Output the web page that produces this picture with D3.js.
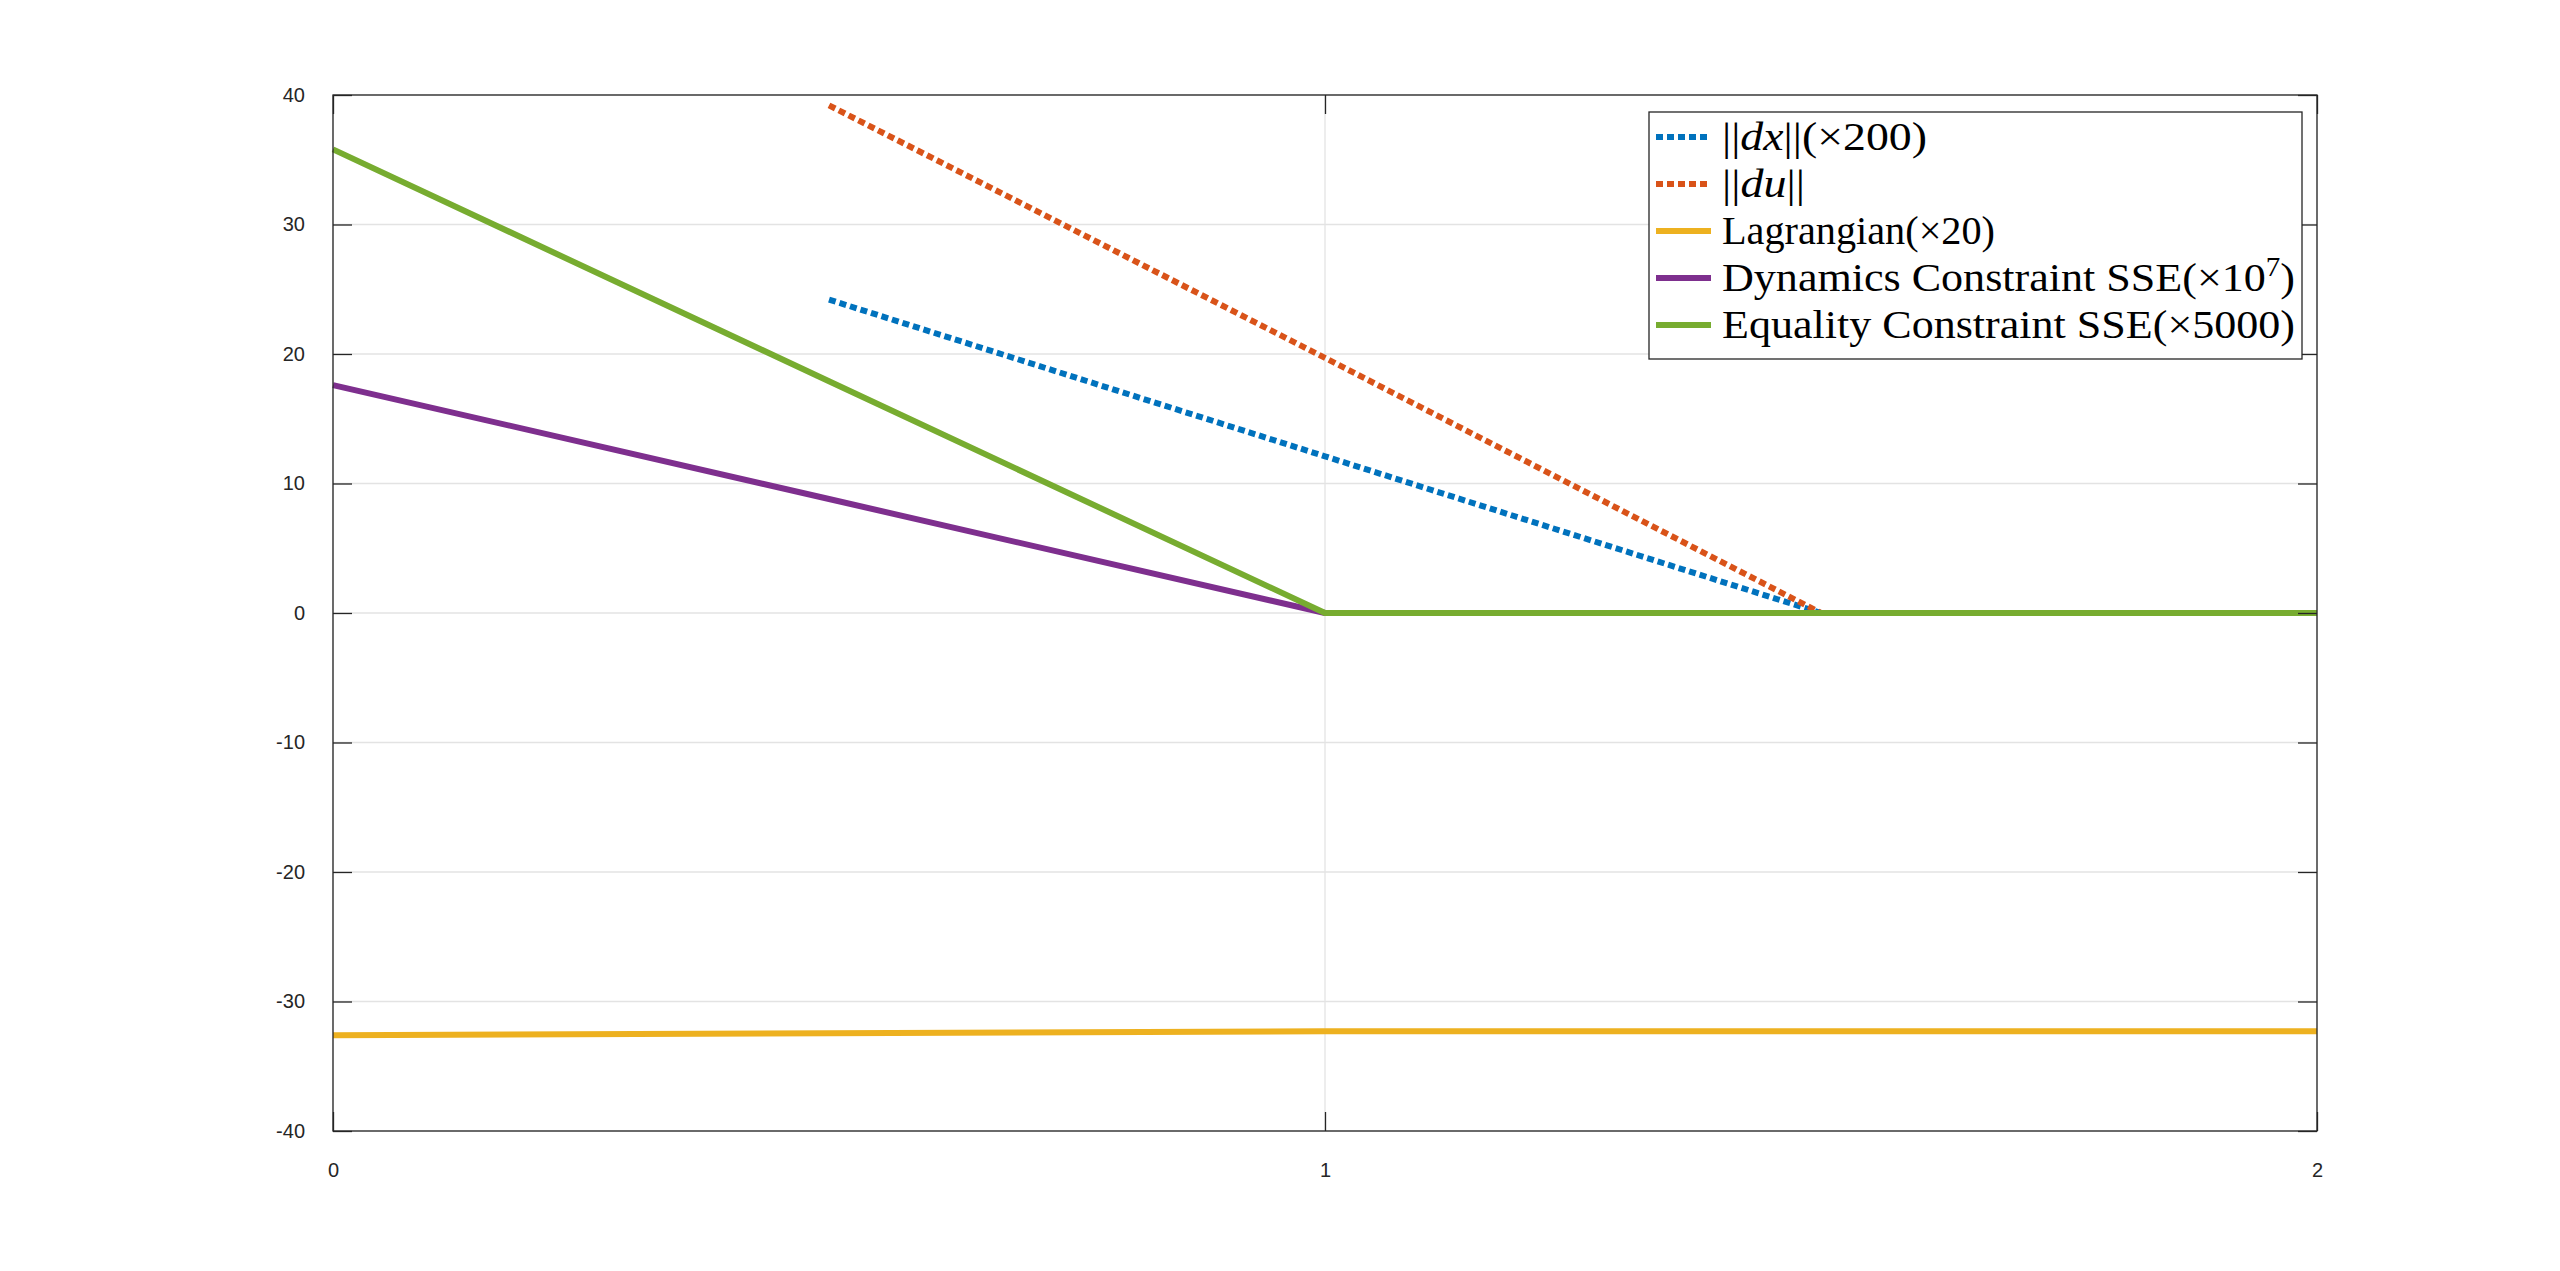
<!DOCTYPE html>
<html>
<head>
<meta charset="utf-8">
<script src="https://cdn.jsdelivr.net/npm/d3@7"></script>
<style>
  html, body { margin: 0; padding: 0; background: #fff; }
  svg { display: block; }
</style>
</head>
<body>
<div id="chart"></div>
<script>
'use strict';

// data
const xs = [0, 0.5, 1, 1.5, 2];
const dxNorm = [null, 24.2, 12.1, 0, 0];
const duNorm = [null, 39.2, 19.7, 0, 0];
const lagrangian = [-32.6, -32.45, -32.3, -32.3, -32.3];
const dynamicsSSE = [17.6, 8.8, 0, 0, 0];
const equalitySSE = [35.8, 17.9, 0, 0, 0];

const xTicks = [0, 1, 2];
const yTicks = [-40, -30, -20, -10, 0, 10, 20, 30, 40];

const series = [
    { name: 'dx', values: dxNorm, color: '#0072BD', dash: '7,4' },
    { name: 'du', values: duNorm, color: '#D95319', dash: '7,4' },
    { name: 'lag', values: lagrangian, color: '#EDB120', dash: null },
    { name: 'dyn', values: dynamicsSSE, color: '#7E2F8E', dash: null },
    { name: 'eq', values: equalitySSE, color: '#77AC30', dash: null }
];

// canvas
const W = 2560, H = 1271;
const axL = 333, axR = 2317, axT = 95, axB = 1131;
const axisColor = '#262626', gridColor = '#e3e3e3';

const svg = d3.select('#chart').append('svg')
    .attr('width', W)
    .attr('height', H);

const x = d3.scaleLinear().domain([0, 2]).range([axL, axR]);
const y = d3.scaleLinear().domain([-40, 40]).range([axB, axT]);

// grid
svg.append('g').selectAll('line')
    .data(yTicks).enter().append('line')
    .attr('x1', axL).attr('x2', axR)
    .attr('y1', d => y(d)).attr('y2', d => y(d))
    .attr('stroke', gridColor).attr('stroke-width', 1.3);
svg.append('g').selectAll('line')
    .data(xTicks).enter().append('line')
    .attr('x1', d => x(d)).attr('x2', d => x(d))
    .attr('y1', axT).attr('y2', axB)
    .attr('stroke', gridColor).attr('stroke-width', 1.3);

// lines
const line = d3.line()
    .defined(d => d[1] !== null)
    .x(d => x(d[0]))
    .y(d => y(d[1]));

series.forEach(s => {
    svg.append('path')
        .datum(xs.map((v, i) => [v, s.values[i]]))
        .attr('d', line)
        .attr('fill', 'none')
        .attr('stroke', s.color)
        .attr('stroke-width', 6)
        .attr('stroke-dasharray', s.dash)
        .attr('stroke-linejoin', 'round');
});

// axes (ticks inward, box on)
const tickLen = 19;
const fontAxis = '"Liberation Sans", Arial, sans-serif';
const plain = d => String(d);

const yAxisL = d3.axisLeft(y).tickValues(yTicks).tickSize(-tickLen).tickPadding(tickLen + 9).tickFormat(plain);
const yAxisR = d3.axisRight(y).tickValues(yTicks).tickSize(-tickLen).tickFormat('');
const xAxisB = d3.axisBottom(x).tickValues(xTicks).tickSize(-tickLen).tickPadding(tickLen + 13).tickFormat(plain);
const xAxisT = d3.axisTop(x).tickValues(xTicks).tickSize(-tickLen).tickFormat('');

function styleAxis(g) {
    g.select('.domain').remove();
    g.selectAll('.tick line').attr('stroke', axisColor).attr('stroke-width', 1.3);
    g.selectAll('.tick text')
        .attr('fill', axisColor)
        .style('font-family', fontAxis)
        .style('font-size', '20px');
}

svg.append('g').attr('transform', `translate(${axL},0)`).call(yAxisL).call(styleAxis);
svg.append('g').attr('transform', `translate(${axR},0)`).call(yAxisR).call(styleAxis);
svg.append('g').attr('transform', `translate(0,${axB})`).call(xAxisB).call(styleAxis);
svg.append('g').attr('transform', `translate(0,${axT})`).call(xAxisT).call(styleAxis);

svg.append('rect')
    .attr('x', axL).attr('y', axT)
    .attr('width', axR - axL).attr('height', axB - axT)
    .attr('fill', 'none')
    .attr('stroke', axisColor)
    .attr('stroke-width', 1.3);

// legend
const lg = svg.append('g').attr('class', 'legend');
const lgX = 1649, lgY = 112, lgW = 653, lgH = 247;
lg.append('rect')
    .attr('x', lgX).attr('y', lgY)
    .attr('width', lgW).attr('height', lgH)
    .attr('fill', '#fff')
    .attr('stroke', axisColor)
    .attr('stroke-width', 1.3);

// label pieces: [text, italic, superscript]
const legendLabels = [
    [['||', 0], ['dx', 1], ['||(×200)', 0]],
    [['||', 0], ['du', 1], ['||', 0]],
    [['Lagrangian(×20)', 0]],
    [['Dynamics Constraint SSE(×10', 0], ['7', 0, 1], [')', 0]],
    [['Equality Constraint SSE(×5000)', 0]]
];
const legendWidths = [205, 83, 273, 573, 573];

const rowY = d3.scaleLinear().domain([0, 4]).range([137, 325]);

series.forEach((s, i) => {
    const cy = rowY(i);
    lg.append('line')
        .attr('x1', 1656).attr('x2', 1711)
        .attr('y1', cy).attr('y2', cy)
        .attr('stroke', s.color)
        .attr('stroke-width', 6)
        .attr('stroke-dasharray', s.dash);

    const t = lg.append('text')
        .attr('x', 1722)
        .attr('y', cy + 13)
        .attr('fill', '#000')
        .style('font-family', '"Liberation Serif", "Times New Roman", serif')
        .style('font-size', '41px')
        .attr('textLength', legendWidths[i])
        .attr('lengthAdjust', 'spacingAndGlyphs');

    let raised = false;
    legendLabels[i].forEach(p => {
        const ts = t.append('tspan').text(p[0]);
        if (p[1]) ts.style('font-style', 'italic');
        if (p[2]) {
            ts.attr('dy', -15).style('font-size', '27px');
            raised = true;
        } else if (raised) {
            ts.attr('dy', 15);
            raised = false;
        }
    });
});
</script>
</body>
</html>
